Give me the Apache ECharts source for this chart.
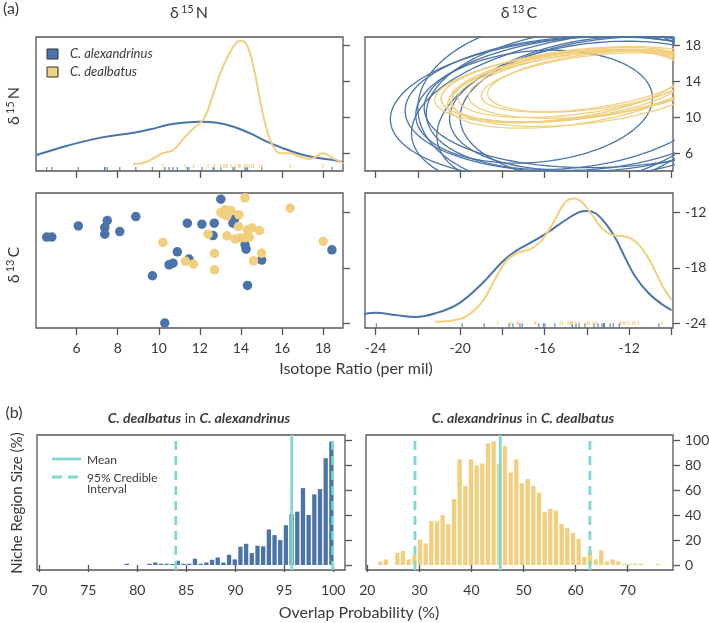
<!DOCTYPE html>
<html><head><meta charset="utf-8">
<script src="https://cdn.jsdelivr.net/npm/echarts@6/dist/echarts.min.js"></script>
<style>html,body{margin:0;padding:0;background:#fff}#c{width:709px;height:623px}</style>
</head><body><div id="c"></div>
<script>
// ---------- DATA ----------
const species = ['C. alexandrinus', 'C. dealbatus'];
// raw isotope values (per mil)
const alexN = [4.54,4.79,6.08,7.37,7.37,7.49,8.10,8.88,9.69,10.29,10.50,10.69,10.90,11.39,11.47,12.10,12.64,12.70,13.02,13.61,13.69,14.20,14.25,14.32,15.01,18.43];
const alexC = [-14.69,-14.69,-13.48,-13.66,-14.37,-12.90,-14.09,-12.47,-18.86,-23.96,-17.68,-17.50,-16.28,-13.19,-17.06,-13.29,-14.52,-13.19,-10.60,-13.19,-12.76,-15.52,-15.99,-19.90,-17.17,-16.06];
const dealN = [10.20,11.30,11.69,12.40,12.71,12.71,13.02,13.23,13.51,13.32,13.15,13.32,13.90,13.88,13.72,13.96,14.20,14.20,14.32,14.53,14.41,14.90,14.61,15.01,16.40,18.00];
const dealC = [-15.27,-17.30,-17.60,-14.37,-16.45,-18.22,-12.04,-11.75,-11.83,-12.40,-12.20,-14.55,-12.29,-13.55,-14.90,-14.80,-14.75,-10.45,-13.90,-13.70,-14.69,-13.98,-17.25,-16.42,-11.57,-15.16];

// density curves (relative height in panel)
const densNAlexX = [4.04,5.55,7.17,8.78,9.59,10.40,11.21,12.02,12.83,13.64,14.45,15.26,16.06,16.87,17.68,18.49,18.98];
const densNAlexY = [0.119,0.189,0.249,0.286,0.311,0.343,0.360,0.368,0.360,0.330,0.281,0.219,0.169,0.127,0.099,0.082,0.065];
const densNDealX = [8.75,9.43,10.08,10.40,10.72,11.21,11.69,12.18,12.50,12.99,13.48,13.80,13.99,14.29,14.61,14.93,15.26,15.58,15.90,16.39,16.87,17.36,18.00,18.49,18.98];
const densNDealY = [0.050,0.070,0.125,0.142,0.157,0.244,0.318,0.386,0.505,0.729,0.890,0.960,0.972,0.940,0.778,0.530,0.306,0.181,0.132,0.132,0.107,0.090,0.132,0.095,0.057];
const densCAlexX = [-24.55,-24.0,-23.05,-22.1,-21.16,-20.05,-18.95,-18.0,-17.37,-16.43,-15.8,-15.01,-14.39,-14.0,-13.6,-13.13,-12.65,-12.18,-11.71,-11.08,-10.45,-10.0];
const densCAlexY = [0.104,0.113,0.096,0.081,0.109,0.183,0.331,0.491,0.570,0.652,0.714,0.800,0.857,0.867,0.850,0.776,0.664,0.516,0.380,0.257,0.176,0.133];
const densCDealX = [-21.2,-20.53,-19.74,-18.95,-18.33,-17.78,-17.22,-16.67,-16.2,-15.65,-15.18,-14.86,-14.58,-14.23,-13.76,-13.29,-12.81,-12.34,-11.87,-11.4,-10.92,-10.45,-10.0];
const densCDealY = [0.047,0.052,0.084,0.195,0.368,0.504,0.561,0.585,0.640,0.763,0.899,0.953,0.960,0.931,0.837,0.738,0.689,0.681,0.659,0.590,0.467,0.319,0.207];

// posterior niche ellipses (δ13C centre, δ15N centre, half-width, half-height, correlation)
const ellAlexMx = [-14.3,-14.0,-16.5,-13.5,-13.0,-14.2,-15.0,-13.5,-12.0,-14.6];
const ellAlexMy = [11.0,11.5,11.2,10.5,11.8,10.5,11.5,11.3,10.8,12.0];
const ellAlexA  = [9.0,8.6,5.6,8.8,8.7,6.9,7.0,7.0,8.0,7.0];
const ellAlexB  = [8.0,7.6,6.3,9.0,7.4,8.5,9.5,7.2,8.2,7.8];
const ellAlexR  = [0.15,0.10,0.15,0.25,0.10,0.30,0.05,0.20,0.10,0.20];
const ellDealMx = [-14.8,-14.5,-14.2,-14.0,-15.0,-13.8,-14.6,-13.7,-15.0,-14.4];
const ellDealMy = [13.5,13.7,13.3,13.9,13.5,13.7,13.3,14.0,13.5,13.7];
const ellDealA  = [6.4,5.6,6.2,5.0,5.5,5.8,6.0,5.0,5.9,6.5];
const ellDealB  = [4.1,3.7,4.3,3.3,4.0,3.8,4.5,3.4,4.0,4.2];
const ellDealR  = [0.38,0.42,0.35,0.45,0.40,0.35,0.42,0.40,0.35,0.38];

// overlap histograms
const histLeftStart = 78.93, histLeftStep = 0.58;
const histLeftVals = [1,0,0,0,1,2,1,1,0.8,3.4,1,1,5,1,2,4.2,6,2,8.2,4.5,14.6,17,9.5,15.4,14.9,28.4,23.9,19.9,31.8,40.8,42.7,61.5,40,56.5,60.7,85.4,98.7];
const histRightStart = 22.5, histRightStep = 1.088;
const histRightVals = [2.9,4.5,0,9.8,11.4,4.5,8,20.4,17.2,35,35,40,32.9,52.8,84.6,63.4,84.6,79.6,81.2,97.3,98.9,81,95.2,74,84.6,65.5,68.7,63.4,58,42.2,45,43.5,32.9,29.4,25.7,21,6.4,11.7,4.5,11.7,2.9,4.5,2.9,1,1,1,1,0,0,1];
const meanLeft = 95.76, ciLeft = [83.93, 99.94];
const meanRight = 45.53, ciRight = [29.16, 62.75];

// tick values
const nTicks = [6,8,10,12,14,16,18];
const nRowTicks = [6,10,14,18];
const cTicks = [-24,-22,-20,-18,-16,-14,-12,-10];
const cLabels = [-24,-20,-16,-12];
const cRowTicks = [-24,-18,-12];
const hLeftTicks = [70,75,80,85,90,95,100];
const hRightTicks = [20,30,40,50,60,70];
const hYTicks = [0,20,40,60,80,100];

// ---------- STYLE ----------
const BLUE = '#4a74a9', YEL = '#f1cf7f', TEAL = '#7fd9d0', AX = '#555', TXT = '#3a3a3a';
const FONT = 'Lato, "Open Sans", sans-serif';
const nRange = [4.02, 18.97], cRange = [-24.5, -9.93];

function grid(l, t, w, h) {
  return {left: l, top: t, width: w, height: h, show: true, borderColor: AX, borderWidth: 1.3,
          backgroundColor: 'transparent', containLabel: false, outerBoundsMode: 'none'};
}
function ax(type, gi, min, max, ticks, labels, pos) {
  return {type: 'value', gridIndex: gi, min: min, max: max, position: pos, scale: true,
    axisLine: {show: false}, splitLine: {show: false},
    axisTick: {show: true, inside: false, length: 7, customValues: ticks, lineStyle: {color: AX, width: 1.3}},
    axisLabel: labels ? {show: true, customValues: labels, margin: type === 'x' ? 13 : 12, color: TXT, fontSize: 14, fontFamily: FONT,
      showMinLabel: true, showMaxLabel: true} : {show: false}};
}
const zip = (a, b) => a.map((v, i) => [v, b[i]]);
function ellipse(mx, my, a, b, r) {
  const pts = [];
  for (let k = 0; k <= 160; k++) {
    const t = k / 160 * 2 * Math.PI;
    pts.push([mx + a * Math.cos(t), my + b * (r * Math.cos(t) + Math.sqrt(1 - r * r) * Math.sin(t))]);
  }
  return pts;
}
function lineS(name, xi, yi, data, color, width, smooth, dash) {
  return {name: name, type: 'line', xAxisIndex: xi, yAxisIndex: yi, data: data, showSymbol: false, symbol: 'none',
    smooth: smooth, clip: true, silent: true, lineStyle: {color: color, width: width, type: dash || 'solid'}, z: 3};
}
function rug(name, xi, yi, vals, h, color) {
  return {name: name, type: 'scatter', xAxisIndex: xi, yAxisIndex: yi, symbol: 'rect', symbolSize: [1.3, 4],
    data: vals.map(v => [v, h]), itemStyle: {color: color}, silent: true, z: 2};
}

const series = [];
// top-left: δ15N densities
series.push(lineS(species[0], 0, 6, zip(densNAlexX, densNAlexY), BLUE, 2, 0.4));
series.push(lineS(species[1], 0, 6, zip(densNDealX, densNDealY), YEL, 2, 0.4));
series.push(rug(species[0], 0, 6, alexN, 0.015, BLUE));
series.push(rug(species[1], 0, 6, dealN, 0.037, YEL));
// top-right: ellipses
ellAlexMx.forEach((m, i) => series.push(lineS(species[0], 1, 1, ellipse(m, ellAlexMy[i], ellAlexA[i], ellAlexB[i], ellAlexR[i]), BLUE, 1.3, false)));
ellDealMx.forEach((m, i) => series.push(lineS(species[1], 1, 1, ellipse(m, ellDealMy[i], ellDealA[i], ellDealB[i], ellDealR[i]), YEL, 1.3, false)));
// bottom-left: scatter
series.push({name: species[0], type: 'scatter', xAxisIndex: 2, yAxisIndex: 2, data: zip(alexN, alexC), symbolSize: 9.5, itemStyle: {color: BLUE, opacity: 1}, z: 3});
series.push({name: species[1], type: 'scatter', xAxisIndex: 2, yAxisIndex: 2, data: zip(dealN, dealC), symbolSize: 9.5, itemStyle: {color: YEL, opacity: 1}, z: 4});
// bottom-right: δ13C densities
series.push(lineS(species[0], 3, 7, zip(densCAlexX, densCAlexY), BLUE, 2, 0.4));
series.push(lineS(species[1], 3, 7, zip(densCDealX, densCDealY), YEL, 2, 0.4));
series.push(rug(species[0], 3, 7, alexC, 0.02, BLUE));
series.push(rug(species[1], 3, 7, dealC, 0.037, YEL));
// histograms
series.push({type: 'bar', xAxisIndex: 4, yAxisIndex: 4, barWidth: 4.3, silent: true,
  data: histLeftVals.map((v, i) => [histLeftStart + i * histLeftStep, v]), itemStyle: {color: BLUE}, z: 2});
series.push({type: 'bar', xAxisIndex: 5, yAxisIndex: 5, barWidth: 4.3, silent: true,
  data: histRightVals.map((v, i) => [histRightStart + i * histRightStep, v]), itemStyle: {color: YEL}, z: 2});
const vline = (xi, yi, x, dash) => ({type: 'line', xAxisIndex: xi, yAxisIndex: yi, data: [[x, -4], [x, 104]], showSymbol: false, symbol: 'none', silent: true,
  lineStyle: {color: TEAL, width: 2.8, type: dash ? [9, 6] : 'solid'}, z: 5});
series.push(vline(4, 4, meanLeft, false), vline(4, 4, ciLeft[0], true), vline(4, 4, ciLeft[1], true));
series.push(vline(5, 5, meanRight, false), vline(5, 5, ciRight[0], true), vline(5, 5, ciRight[1], true));

const supRich = {a: {fontSize: 16, fontFamily: FONT, color: TXT}, s: {fontSize: 11, fontFamily: FONT, color: TXT, verticalAlign: 'top', padding: [0, 2, 7, 2]}};
function txt(x, y, text, font, extra) {
  return Object.assign({type: 'text', x: x, y: y, silent: true,
    style: {text: text, font: font, fill: TXT, align: 'center', verticalAlign: 'middle', textAlign: 'center', textVerticalAlign: 'middle'}}, extra || {});
}
function richTxt(x, y, text, rich, rot) {
  return {type: 'text', x: x, y: y, rotation: rot || 0, silent: true,
    style: {text: text, rich: rich, fill: TXT, align: 'center', verticalAlign: 'middle', textAlign: 'center', textVerticalAlign: 'middle'}};
}
const titleRich = {bi: {fontSize: 14, fontWeight: 'bold', fontStyle: 'italic', fontFamily: FONT, color: TXT}, n: {fontSize: 14, fontFamily: FONT, color: TXT}};

const graphic = [
  txt(11, 9, '(a)', '16px ' + FONT),
  txt(14, 413, '(b)', '16px ' + FONT),
  richTxt(189, 13, '{a|δ}{s|15}{a|N}', supRich),
  richTxt(519, 13, '{a|δ}{s|13}{a|C}', supRich),
  richTxt(14, 106, '{a|δ}{s|15}{a|N}', supRich, Math.PI / 2),
  richTxt(14, 265, '{a|δ}{s|13}{a|C}', supRich, Math.PI / 2),
  txt(356, 369, 'Isotope Ratio (per mil)', '16px ' + FONT),
  txt(359, 613, 'Overlap Probability (%)', '16px ' + FONT),
  txt(17, 503, 'Niche Region Size (%)', '15px ' + FONT, {rotation: Math.PI / 2}),
  richTxt(199, 418, '{bi|C. dealbatus}{n| in }{bi|C. alexandrinus}', titleRich),
  richTxt(523, 418, '{bi|C. alexandrinus}{n| in }{bi|C. dealbatus}', titleRich),
  // species legend
  {type: 'rect', shape: {x: 47, y: 49, width: 11, height: 10}, style: {fill: BLUE, stroke: '#333', lineWidth: 1}},
  {type: 'rect', shape: {x: 47, y: 67, width: 11, height: 10}, style: {fill: YEL, stroke: '#333', lineWidth: 1}},
  {type: 'text', x: 70, y: 54, style: {text: species[0], font: 'italic 13px ' + FONT, fill: TXT, align: 'left', verticalAlign: 'middle', textAlign: 'left', textVerticalAlign: 'middle'}},
  {type: 'text', x: 70, y: 72, style: {text: species[1], font: 'italic 13px ' + FONT, fill: TXT, align: 'left', verticalAlign: 'middle', textAlign: 'left', textVerticalAlign: 'middle'}},
  // mean / CI legend
  {type: 'line', shape: {x1: 52, y1: 459, x2: 81, y2: 459}, style: {stroke: TEAL, lineWidth: 2.8}},
  {type: 'line', shape: {x1: 52, y1: 477, x2: 81, y2: 477}, style: {stroke: TEAL, lineWidth: 2.8, lineDash: [10, 6]}},
  {type: 'text', x: 87, y: 460, style: {text: 'Mean', font: '12px ' + FONT, fill: TXT, align: 'left', verticalAlign: 'middle', textAlign: 'left', textVerticalAlign: 'middle'}},
  {type: 'text', x: 87, y: 478, style: {text: '95% Credible', font: '12px ' + FONT, fill: TXT, align: 'left', verticalAlign: 'middle', textAlign: 'left', textVerticalAlign: 'middle'}},
  {type: 'text', x: 87, y: 489, style: {text: 'Interval', font: '12px ' + FONT, fill: TXT, align: 'left', verticalAlign: 'middle', textAlign: 'left', textVerticalAlign: 'middle'}}
];

const option = {
  animation: false,
  backgroundColor: '#fff',
  textStyle: {fontFamily: FONT},
  grid: [grid(36, 37, 307, 134), grid(365, 37, 308, 134), grid(36, 193, 307, 135), grid(365, 193, 308, 135), grid(37, 435, 308, 135), grid(366, 435, 307, 135)],
  xAxis: [
    ax('x', 0, nRange[0], nRange[1], nTicks, null, 'bottom'),
    ax('x', 1, cRange[0], cRange[1], cTicks, null, 'bottom'),
    ax('x', 2, nRange[0], nRange[1], nTicks, nTicks, 'bottom'),
    ax('x', 3, cRange[0], cRange[1], cTicks, cLabels, 'bottom'),
    ax('x', 4, 69.77, 101.2, hLeftTicks, hLeftTicks, 'bottom'),
    ax('x', 5, 19.75, 78.7, hRightTicks, hRightTicks, 'bottom')
  ],
  yAxis: [
    ax('y', 0, nRange[0], nRange[1], nRowTicks, null, 'right'),
    ax('y', 1, nRange[0], nRange[1], nRowTicks, nRowTicks, 'right'),
    ax('y', 2, cRange[0], cRange[1], cRowTicks, null, 'right'),
    ax('y', 3, cRange[0], cRange[1], cRowTicks, cRowTicks, 'right'),
    ax('y', 4, -4, 104, hYTicks, null, 'right'),
    ax('y', 5, -4, 104, hYTicks, hYTicks, 'right'),
    {type: 'value', gridIndex: 0, min: 0, max: 1, show: false},
    {type: 'value', gridIndex: 3, min: 0, max: 1, show: false}
  ],
  series: series,
  graphic: graphic
};
const chart = echarts.init(document.getElementById('c'), null, {renderer: 'canvas'});
chart.setOption(option);
</script></body></html>
